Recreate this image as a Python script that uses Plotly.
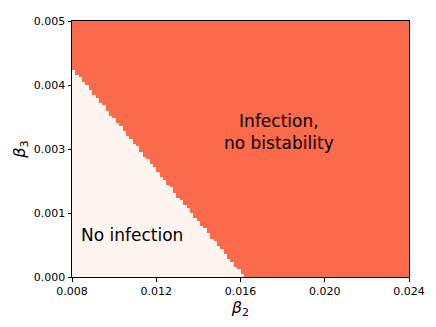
import numpy as np
import plotly.graph_objects as go

# Parameter grid (100 x 100 cells)
beta2_min, beta2_max = 0.008, 0.024
beta3_min, beta3_max = 0.0, 0.005
n_cols, n_rows = 100, 100

# Number of "no infection" cells (from the bottom) in each beta2 column,
# read off the picture; columns not listed have none
no_infection_rows = [81, 79, 78, 76, 75, 73, 71, 70, 68, 67,
                     65, 63, 62, 60, 59, 57, 55, 54, 52, 51,
                     49, 47, 46, 44, 43, 41, 39, 38, 36, 35,
                     33, 31, 30, 28, 27, 25, 23, 22, 20, 19,
                     17, 15, 14, 12, 11, 9, 7, 6, 4, 3, 1]

x_tick_vals = [0.008, 0.012, 0.016, 0.020, 0.024]
x_tick_text = ['0.008', '0.012', '0.016', '0.020', '0.024']
y_tick_vals = [0.0, 0.00125, 0.0025, 0.00375, 0.005]
y_tick_text = ['0.000', '0.001', '0.003', '0.004', '0.005']

# Build the region map: 0 = no infection, 1 = infection, no bistability
dx = (beta2_max - beta2_min) / n_cols
dy = (beta3_max - beta3_min) / n_rows
beta2 = beta2_min + dx * (np.arange(n_cols) + 0.5)
beta3 = beta3_min + dy * (np.arange(n_rows) + 0.5)
z = np.ones((n_rows, n_cols))
for col, rows in enumerate(no_infection_rows):
    z[:rows, col] = 0

fig = go.Figure(go.Heatmap(
    x=beta2, y=beta3, z=z,
    colorscale=[[0, '#fff5f0'], [1, '#fb6a4a']],
    zmin=0, zmax=1, showscale=False, hoverinfo='skip'
))

fig.add_annotation(x=0.01086, y=0.000815, text='No infection', showarrow=False,
                   font=dict(size=17, color='black'))
fig.add_annotation(x=0.017825, y=0.00283, text='Infection,<br>no bistability',
                   showarrow=False, font=dict(size=17, color='black'))

axis_style = dict(showline=True, linecolor='black', linewidth=1, mirror=True,
                  ticks='outside', ticklen=3.5, tickwidth=1, tickcolor='black',
                  showgrid=False, zeroline=False,
                  tickfont=dict(size=11, color='black'))

fig.update_xaxes(range=[beta2_min, beta2_max], tickvals=x_tick_vals,
                 ticktext=x_tick_text,
                 title=dict(text='<i>β</i><sub>2</sub>', font=dict(size=16, color='black'),
                            standoff=3),
                 **axis_style)
fig.update_yaxes(range=[beta3_min, beta3_max], tickvals=y_tick_vals,
                 ticktext=y_tick_text,
                 title=dict(text='<i>β</i><sub>3</sub>', font=dict(size=16, color='black'),
                            standoff=4),
                 **axis_style)

# the page adds an 8px body margin, so margins are shifted to compensate
fig.update_layout(
    width=436, height=327,
    margin=dict(l=64, r=35, t=7, b=58),
    plot_bgcolor='white', paper_bgcolor='white',
    font=dict(family='DejaVu Sans', color='black'),
    showlegend=False
)

fig.write_html("out.html")
